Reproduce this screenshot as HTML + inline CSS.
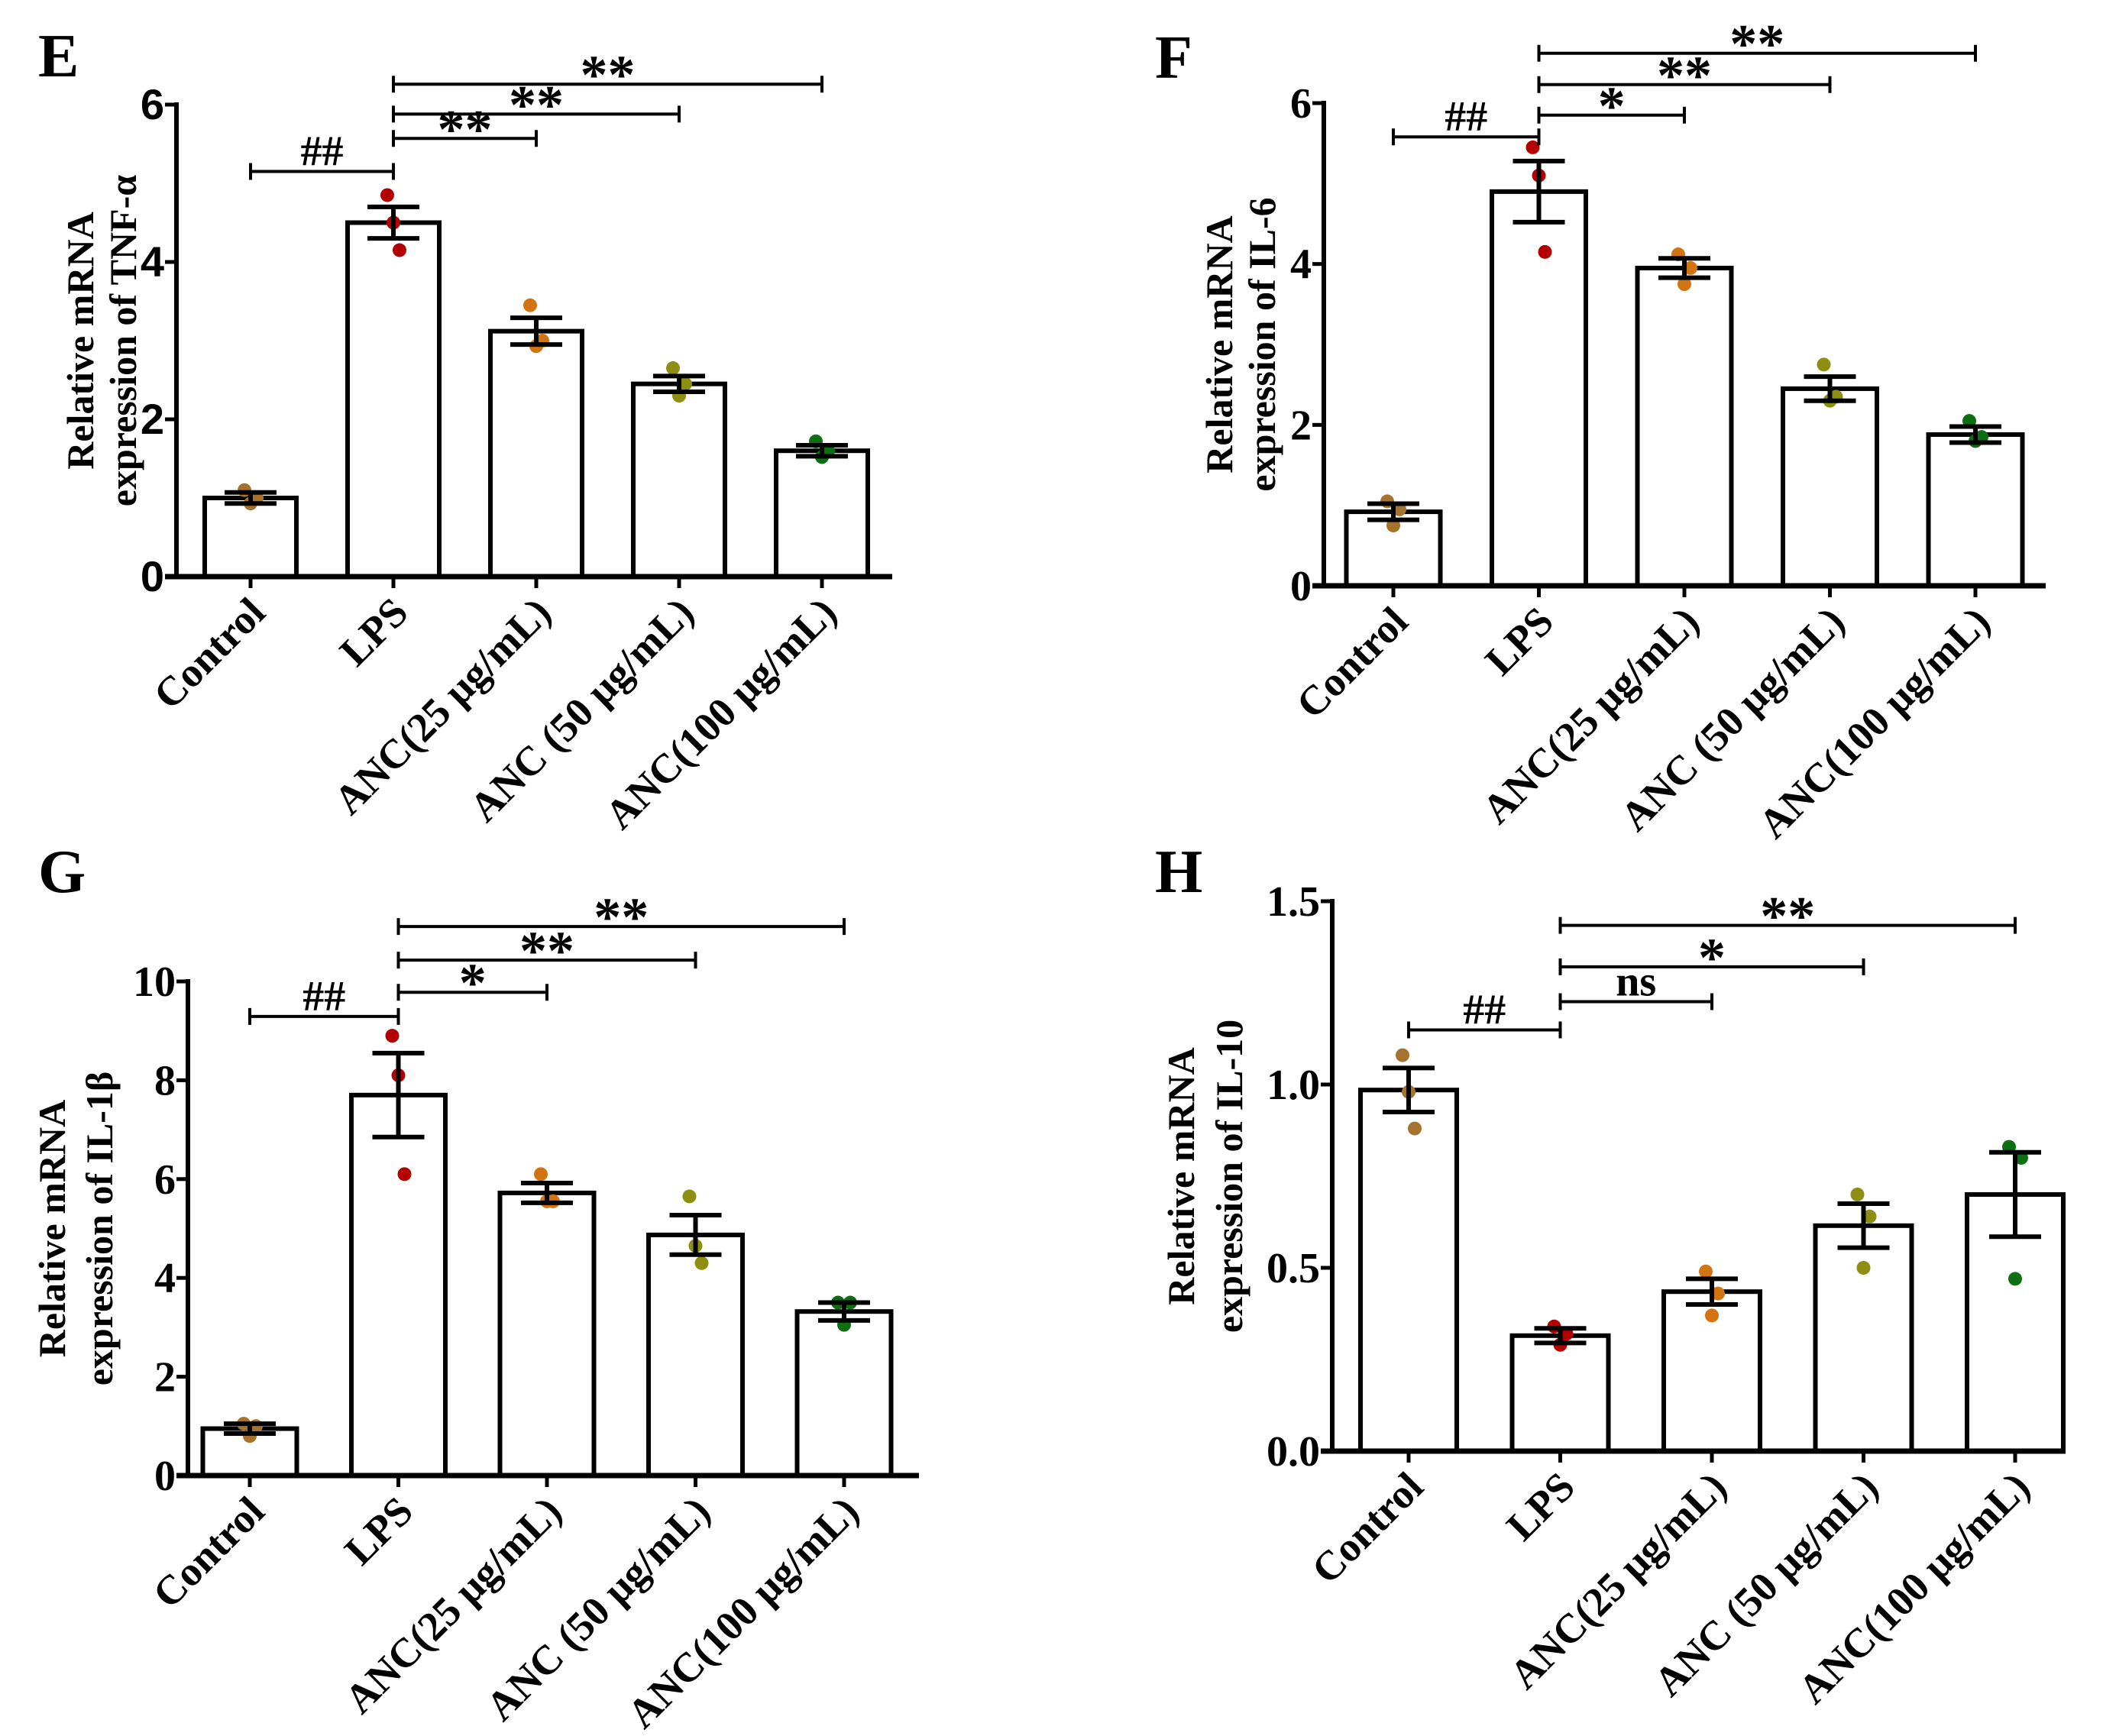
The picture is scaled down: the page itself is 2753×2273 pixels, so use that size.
<!DOCTYPE html>
<html><head><meta charset="utf-8"><style>
html,body{margin:0;padding:0;background:#fff;}
svg{display:block;}
text{font-family:"Liberation Serif",serif;font-weight:bold;fill:#000;}
</style></head><body>
<svg id="fig" width="2753" height="2273" viewBox="0 0 2753 2273" xmlns="http://www.w3.org/2000/svg"></svg>
<script>
const categories = ["Control","LPS","ANC(25 μg/mL)","ANC (50 μg/mL)","ANC(100 μg/mL)"];
const dotColors = ["#a5732e","#b30000","#d27412","#8e8e12","#0e6f12"];

const tnfMeans = [1.0, 4.5, 3.12, 2.45, 1.6];
const tnfSem = [0.07, 0.2, 0.17, 0.1, 0.07];
const tnfPoints = [[1.1,0.93,1.0],[4.85,4.5,4.15],[3.45,2.93,3.0],[2.65,2.3,2.45],[1.72,1.52,1.6]];
const tnfTicks = ["0","2","4","6"];
const tnfTickVals = [0,2,4,6];
const tnfSigLabels = ["##","**","**","**"];
const tnfSigY = [5.15,5.57,5.88,6.26];

const il6Means = [0.92, 4.9, 3.95, 2.45, 1.88];
const il6Sem = [0.1, 0.38, 0.12, 0.15, 0.1];
const il6Points = [[1.05,0.75,0.95],[5.45,5.1,4.15],[4.12,3.75,3.95],[2.75,2.3,2.35],[2.05,1.8,1.85]];
const il6Ticks = ["0","2","4","6"];
const il6TickVals = [0,2,4,6];
const il6SigLabels = ["##","*","**","**"];
const il6SigY = [5.58,5.85,6.23,6.62];

const il1bMeans = [0.95, 7.7, 5.72, 4.87, 3.32];
const il1bSem = [0.1, 0.85, 0.2, 0.4, 0.18];
const il1bPoints = [[1.05,0.8,1.0],[8.9,8.1,6.1],[6.1,5.55,5.55],[5.65,4.65,4.3],[3.5,3.05,3.5]];
const il1bTicks = ["0","2","4","6","8","10"];
const il1bTickVals = [0,2,4,6,8,10];
const il1bSigLabels = ["##","*","**","**"];
const il1bSigY = [9.29,9.78,10.43,11.11];

const il10Means = [0.985, 0.315, 0.435, 0.615, 0.70];
const il10Sem = [0.06, 0.02, 0.035, 0.06, 0.115];
const il10Points = [[1.08,0.98,0.88],[0.34,0.29,0.32],[0.49,0.37,0.43],[0.7,0.5,0.64],[0.83,0.47,0.8]];
const il10Ticks = ["0.0","0.5","1.0","1.5"];
const il10TickVals = [0,0.5,1.0,1.5];
const il10SigLabels = ["##","ns","*","**"];
const il10SigY = [1.149,1.226,1.321,1.434];

const NS = "http://www.w3.org/2000/svg";
const svg = document.getElementById("fig");
function mk(tag, attrs, parent, txt){
  const e = document.createElementNS(NS, tag);
  for (const k in attrs) e.setAttribute(k, attrs[k]);
  if (txt !== undefined) e.textContent = txt;
  parent.appendChild(e);
  return e;
}

function panel(cfg){
  const g = mk("g", {}, svg);
  
  
  const yScale = v => cfg.y0 - (v - cfg.min) / (cfg.max - cfg.min) * (cfg.y0 - cfg.yTop);
  const xScale = i => cfg.x0c + i * cfg.step;

  const letter = mk("text", {x: cfg.letterX, y: cfg.letterY, "font-size": 80}, g, cfg.letter);
  
  

  cfg.means.forEach((m, i) => {
    const cx = xScale(i);
    const r = mk("rect", {x: cx - cfg.bw/2, y: yScale(m), width: cfg.bw, height: cfg.y0 - yScale(m), fill: "#fff", stroke: "#000", "stroke-width": 6}, g);
    
    
  });
  const offs = [-8, 0, 8];
  cfg.points.forEach((pts, i) => {
    pts.forEach((p, j) => {
      const c = mk("circle", {cx: xScale(i) + offs[j], cy: yScale(p), r: 9, fill: dotColors[i]}, g);
      
      
    });
  });
  cfg.means.forEach((m, i) => {
    const cx = xScale(i), hi = yScale(m + cfg.sem[i]), lo = yScale(m - cfg.sem[i]);
    const eb = mk("path", {d: `M${cx},${hi}V${lo}M${cx-34},${hi}H${cx+34}M${cx-34},${lo}H${cx+34}`, stroke: "#000", "stroke-width": 6, fill: "none"}, g);
    
    
  });
  const ya = mk("path", {d: `M${cfg.ax},${yScale(cfg.max)-3}V${cfg.y0}`, stroke: "#000", "stroke-width": 6, fill: "none"}, g);
  
  
  const xa = mk("path", {d: `M${cfg.ax-15},${cfg.y0}H${cfg.xEnd}`, stroke: "#000", "stroke-width": 7, fill: "none"}, g);
  
  
  cfg.tickVals.forEach((v, i) => {
    const y = yScale(v);
    mk("path", {d: `M${cfg.ax-15},${y}H${cfg.ax}`, stroke: "#000", "stroke-width": 5}, g);
    const t = mk("text", {x: cfg.ax - 16, y: y + 19, "text-anchor": "end", "font-size": 56, style: cfg.sansTicks ? 'font-family:"Liberation Sans",sans-serif' : ''}, g, cfg.ticks[i]);
    
    
  });
  categories.forEach((c, i) => {
    const x = xScale(i);
    mk("path", {d: `M${x},${cfg.y0}V${cfg.y0+15}`, stroke: "#000", "stroke-width": 5}, g);
    const t = mk("text", {x: 0, y: 0, "text-anchor": "end", "font-size": 54, transform: `translate(${x+22},${cfg.y0+50}) rotate(-45)`}, g, c);
    
    
  });
  const yc = (cfg.yTop + cfg.y0) / 2;
  const t1 = mk("text", {x: 0, y: 0, "text-anchor": "middle", "font-size": 50, transform: `translate(${cfg.ax + cfg.t1},${yc}) rotate(-90)`}, g, "Relative mRNA");
  
  
  const t2 = mk("text", {x: 0, y: 0, "text-anchor": "middle", "font-size": 50, transform: `translate(${cfg.ax + cfg.t2},${yc}) rotate(-90)`}, g, cfg.title2);
  
  
  const pairs = [[0,1],[1,2],[1,3],[1,4]];
  pairs.forEach((p, k) => {
    const y = yScale(cfg.sigY[k]);
    const x1 = xScale(p[0]), x2 = xScale(p[1]);
    const b = mk("path", {d: `M${x1},${y-11}V${y+11}M${x1},${y}H${x2}M${x2},${y-11}V${y+11}`, stroke: "#000", "stroke-width": 4, fill: "none"}, g);
    
    
    const lab = cfg.sigLabels[k];
    const star = lab.indexOf('*') >= 0;
    const s = mk("text", {x: (x1+x2)/2, y: y + (star ? 12 : -8), "text-anchor": "middle", "font-size": star ? 72 : 56}, g, lab);
    
    
  });
}

panel({name:"panel-e-tnf", letter:"E", letterX:50, letterY:100, means:tnfMeans, sem:tnfSem, points:tnfPoints,
  ticks:tnfTicks, tickVals:tnfTickVals, sigLabels:tnfSigLabels, sigY:tnfSigY, min:0, max:6,
  ax:231, yTop:137, y0:755, x0c:328, step:187, bw:120, xEnd:1168, t1:-109, t2:-53, title2:"expression of TNF-α", sansTicks:true});
panel({name:"panel-f-il6", letter:"F", letterX:1512, letterY:102, means:il6Means, sem:il6Sem, points:il6Points,
  ticks:il6Ticks, tickVals:il6TickVals, sigLabels:il6SigLabels, sigY:il6SigY, min:0, max:6,
  ax:1733, yTop:135, y0:767, x0c:1824, step:190.5, bw:123, xEnd:2678, t1:-120, t2:-64, title2:"expression of IL-6"});
panel({name:"panel-g-il1b", letter:"G", letterX:50, letterY:1168, means:il1bMeans, sem:il1bSem, points:il1bPoints,
  ticks:il1bTicks, tickVals:il1bTickVals, sigLabels:il1bSigLabels, sigY:il1bSigY, min:0, max:10,
  ax:246, yTop:1285, y0:1932, x0c:327, step:194.5, bw:123, xEnd:1203, t1:-161, t2:-99, title2:"expression of IL-1β"});
panel({name:"panel-h-il10", letter:"H", letterX:1512, letterY:1168, means:il10Means, sem:il10Sem, points:il10Points,
  ticks:il10Ticks, tickVals:il10TickVals, sigLabels:il10SigLabels, sigY:il10SigY, min:0, max:1.5,
  ax:1744, yTop:1180, y0:1900, x0c:1844, step:198.5, bw:126, xEnd:2704, t1:-181, t2:-118, title2:"expression of IL-10"});
</script>
</body></html>
